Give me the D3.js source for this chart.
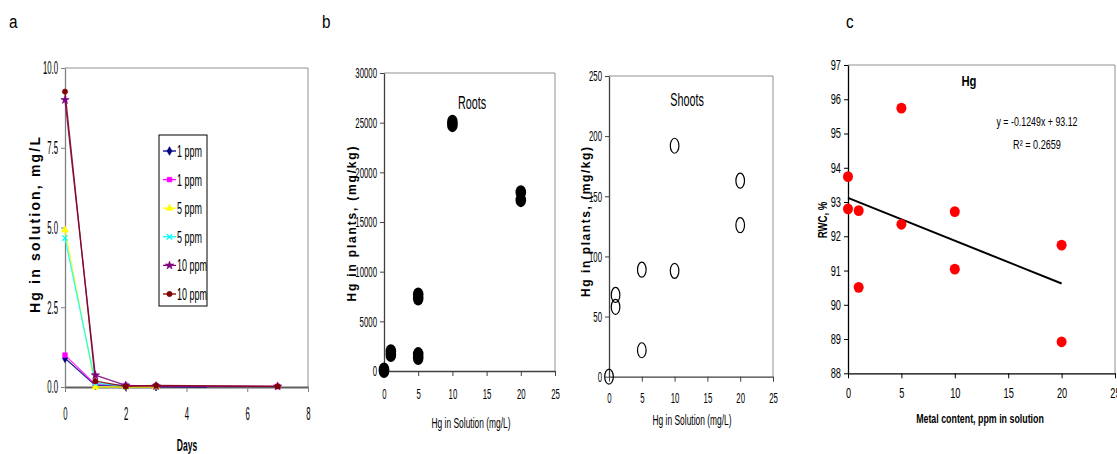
<!DOCTYPE html>
<html><head><meta charset="utf-8">
<script src="https://cdn.jsdelivr.net/npm/d3@7"></script>
<style>
html,body{margin:0;padding:0;background:#fff;}
svg{display:block;font-family:"Liberation Sans",Arial,sans-serif;}
</style></head>
<body><svg id="chart" width="1117" height="454"></svg>
<script>
// ---------- DATA ----------
// Panel a: Hg in solution over time
const seriesNames = ["1 ppm","1 ppm","5 ppm","5 ppm","10 ppm","10 ppm"];
const seriesColors = ["#000080","#ff00ff","#ffff00","#00ffff","#800080","#800000"];
const seriesShapes = ["diamond","square","triangle","cross","star","circle"];
const s1a = [[0,0.90],[1,0.05],[1.5,0.04],[2,0.02],[3,0.01],[4.67,0.0]];
const s1b = [[0,1.00],[1,0.08],[2,0.05],[3,0.03],[7,0.02]];
const s5a = [[0,4.92],[1,0.0],[2,0.0],[3,0.0]];
const s5b = [[0,4.67],[1,0.12],[2,0.03]];
const s10a = [[0,9.00],[1,0.37],[2,0.05],[3,0.03],[7,0.02]];
const s10b = [[0,9.26],[1,0.18],[2,0.02],[3,0.05],[7,0.02]];
const seriesData = [s1a,s1b,s5a,s5b,s10a,s10b];
const daysTicks = [0,2,4,6,8];
const hgTicks = [0,2.5,5,7.5,10];

// Panel b: roots and shoots
const rootsX = [0,0,1,1,5,5,5,5,10,10,20,20];
const rootsY = [0,150,1600,2000,1300,1700,7300,7700,24750,25100,17200,18000];
const shootsX = [0,1,1,5,5,10,10,20,20];
const shootsY = [0,68,58,89,22,192,88,163,126];
const solTicks = [0,5,10,15,20,25];
const rootsTicks = [0,5000,10000,15000,20000,25000,30000];
const shootsTicks = [0,50,100,150,200,250];

// Panel c: RWC vs metal content
const rwcX = [0,0,1,1,5,5,10,10,20,20];
const rwcY = [93.74,92.8,92.75,90.51,95.74,92.35,92.72,91.04,91.74,88.92];
const trendSlope = -0.1249, trendIntercept = 93.12, trendRange = [0,20];
const rwcTicks = [88,89,90,91,92,93,94,95,96,97];
const metalTicks = [0,5,10,15,20,25];

// ---------- HELPERS ----------
const svg = d3.select("#chart");
svg.append("rect").attr("width",1117).attr("height",454).attr("fill","#fff");
const condensed = [];
function cond(sel, f){ sel.each(function(){ condensed.push([this,f]); }); return sel; }

function frame(x0,x1,y0,y1,col){
  svg.append("path").attr("d",`M${x0},${y0}H${x1}V${y1}`).attr("fill","none")
     .attr("stroke",col).attr("stroke-width",1);
}
function axes(xs, ys, xt, yt, fmt, col, tickCol, fsize, f, xLabY){
  const gx = svg.append("g").attr("transform",`translate(0,${ys.range()[0]})`)
    .call(d3.axisBottom(xs).tickValues(xt).tickSize(5).tickSizeOuter(0).tickPadding(5));
  const gy = svg.append("g").attr("transform",`translate(${xs.range()[0]},0)`)
    .call(d3.axisLeft(ys).tickValues(yt).tickSize(4).tickSizeOuter(0).tickPadding(3).tickFormat(fmt));
  [gx,gy].forEach(g=>{
    g.select(".domain").attr("stroke",col).attr("stroke-width",1.3);
    g.selectAll(".tick line").attr("stroke",tickCol);
    g.selectAll("text").attr("font-size",fsize).attr("fill","#000")
      .attr("font-family","'Liberation Sans',Arial,sans-serif");
    cond(g.selectAll("text"), f);
  });
  gx.selectAll("text").attr("y",xLabY).attr("dy","0.71em");
  return [gx,gy];
}

// ---------- PANEL LABELS ----------
[["a",9],["b",322],["c",846]].forEach(([t,x])=>{
  cond(svg.append("text").attr("x",x).attr("y",28).attr("font-size",18).text(t),0.85);
});

// ---------- PANEL A ----------
const xA = d3.scaleLinear().domain([0,8]).range([65,308]);
const yA = d3.scaleLinear().domain([0,10]).range([387,68]);
frame(65,308,68,387,"#909090");
const [gxA,gyA] = axes(xA,yA,daysTicks,hgTicks,d3.format(".1f"),"#808080","#808080",18,0.43,20);
gxA.select(".domain").attr("stroke","#606060").attr("stroke-width",1.8);

const symType = {diamond:d3.symbolDiamond,square:d3.symbolSquare,triangle:d3.symbolTriangle,
                 cross:d3.symbolTimes,star:d3.symbolStar,circle:d3.symbolCircle};
const lineA = d3.line().x(d=>xA(d[0])).y(d=>yA(d[1]));
seriesData.forEach((data,i)=>{
  svg.append("path").datum(data).attr("d",lineA).attr("fill","none")
    .attr("stroke",seriesColors[i]).attr("stroke-width",1.3).attr("opacity",0.85);
});
seriesData.forEach((data,i)=>{
  const sh = seriesShapes[i];
  svg.selectAll(null).data(data.filter(d=>d[0]!==4.67 && d[0]!==1.5)).enter().append("path")
    .attr("transform",d=>`translate(${xA(d[0])},${yA(d[1])})`)
    .attr("d",d3.symbol().type(symType[sh]).size(sh==="cross"?20:22))
    .attr("fill",sh==="cross"?"none":seriesColors[i])
    .attr("stroke",seriesColors[i]).attr("stroke-width",sh==="cross"?1.3:0.6);
});
// legend
const lg = svg.append("g");
lg.append("rect").attr("x",159).attr("y",135).attr("width",48).attr("height",171)
  .attr("fill","#fff").attr("stroke","#000").attr("stroke-width",1);
seriesNames.forEach((n,i)=>{
  const y = 151 + i*28.6;
  lg.append("line").attr("x1",163).attr("x2",176).attr("y1",y).attr("y2",y)
    .attr("stroke",seriesColors[i]).attr("stroke-width",1.3);
  const sh = seriesShapes[i];
  lg.append("path").attr("transform",`translate(169.5,${y})`)
    .attr("d",d3.symbol().type(symType[sh]).size(sh==="cross"?20:22))
    .attr("fill",sh==="cross"?"none":seriesColors[i]).attr("stroke",seriesColors[i])
    .attr("stroke-width",sh==="cross"?1.3:0.6);
  cond(lg.append("text").attr("x",177).attr("y",y+6).attr("font-size",16).text(n),0.56);
});
// axis titles
cond(svg.append("text").attr("x",187).attr("y",451).attr("text-anchor","middle")
  .attr("font-size",16).attr("font-weight","bold").text("Days"),0.53);
svg.append("text").attr("transform","translate(40,225) rotate(-90)").attr("text-anchor","middle")
  .attr("font-size",14).attr("font-weight","bold")
  .attr("textLength",176).attr("lengthAdjust","spacing").text("Hg in solution, mg/L");

// ---------- PANEL B: ROOTS ----------
const xR = d3.scaleLinear().domain([0,25]).range([384,555]);
const yR = d3.scaleLinear().domain([0,30000]).range([371,73]);
frame(384,555,73,371,"#909090");
const [gxR,gyR] = axes(xR,yR,solTicks,rootsTicks,d3.format("d"),"#404040","#404040",15,0.52,17);
rootsX.forEach((x,i)=>{
  svg.append("ellipse").attr("cx",xR(x)).attr("cy",yR(rootsY[i])).attr("rx",5.3).attr("ry",7)
    .attr("fill","#000");
});
cond(svg.append("text").attr("x",472).attr("y",109).attr("text-anchor","middle")
  .attr("font-size",18).text("Roots"),0.6);
cond(svg.append("text").attr("x",471).attr("y",428).attr("text-anchor","middle")
  .attr("font-size",14).text("Hg in Solution (mg/L)"),0.6);
svg.append("text").attr("transform","translate(356,224) rotate(-90)").attr("text-anchor","middle")
  .attr("font-size",12).attr("font-weight","bold").attr("textLength",155).attr("lengthAdjust","spacing")
  .text("Hg in plants, (mg/kg)");

// ---------- PANEL B: SHOOTS ----------
const xS = d3.scaleLinear().domain([0,25]).range([609,773]);
const yS = d3.scaleLinear().domain([0,250]).range([376.7,76]);
frame(609,773,76,376.7,"#909090");
const [gxS,gyS] = axes(xS,yS,solTicks,shootsTicks,d3.format("d"),"#404040","#404040",15,0.52,16);
shootsX.forEach((x,i)=>{
  svg.append("ellipse").attr("cx",xS(x)).attr("cy",yS(shootsY[i])).attr("rx",4.3).attr("ry",7.5)
    .attr("fill","#fff").attr("fill-opacity",0).attr("stroke","#000").attr("stroke-width",1.2);
});
cond(svg.append("text").attr("x",687).attr("y",106).attr("text-anchor","middle")
  .attr("font-size",18).text("Shoots"),0.6);
cond(svg.append("text").attr("x",692).attr("y",425).attr("text-anchor","middle")
  .attr("font-size",14).text("Hg in Solution (mg/L)"),0.6);
svg.append("text").attr("transform","translate(590,222) rotate(-90)").attr("text-anchor","middle")
  .attr("font-size",12).attr("font-weight","bold").attr("textLength",150).attr("lengthAdjust","spacing")
  .text("Hg in plants, (mg/kg)");

// ---------- PANEL C ----------
const xC = d3.scaleLinear().domain([0,25]).range([848,1115]);
const yC = d3.scaleLinear().domain([88,97]).range([373.3,65]);
frame(848,1115,65,373.3,"#909090");
const [gxC,gyC] = axes(xC,yC,metalTicks,rwcTicks,d3.format("d"),"#000","#000",14,0.66,15);
svg.append("line").attr("x1",xC(trendRange[0])).attr("y1",yC(trendIntercept+trendSlope*trendRange[0]))
  .attr("x2",xC(trendRange[1])).attr("y2",yC(trendIntercept+trendSlope*trendRange[1]))
  .attr("stroke","#000").attr("stroke-width",2);
rwcX.forEach((x,i)=>{
  svg.append("ellipse").attr("cx",xC(x)).attr("cy",yC(rwcY[i])).attr("rx",5).attr("ry",5.4)
    .attr("fill","#f00");
});
cond(svg.append("text").attr("x",969).attr("y",86).attr("text-anchor","middle")
  .attr("font-size",15).attr("font-weight","bold").text("Hg"),0.75);
cond(svg.append("text").attr("x",1037).attr("y",126).attr("text-anchor","middle")
  .attr("font-size",13).text("y = -0.1249x + 93.12"),0.68);
cond(svg.append("text").attr("x",1037).attr("y",149).attr("text-anchor","middle")
  .attr("font-size",13).text("R\u00B2 = 0.2659"),0.7);
cond(svg.append("text").attr("x",980).attr("y",423).attr("text-anchor","middle")
  .attr("font-size",13).attr("font-weight","bold").text("Metal content, ppm in solution"),0.68);
cond(svg.append("text").attr("transform","translate(827,220) rotate(-90)").attr("text-anchor","middle")
  .attr("font-size",12).attr("font-weight","bold").text("RWC, %"),0.8);

// apply horizontal condensing
condensed.forEach(([el,f])=>{
  const L = el.getComputedTextLength();
  if(L>0){ el.setAttribute("textLength", (L*f).toFixed(1)); el.setAttribute("lengthAdjust","spacingAndGlyphs"); }
});
</script></body></html>
